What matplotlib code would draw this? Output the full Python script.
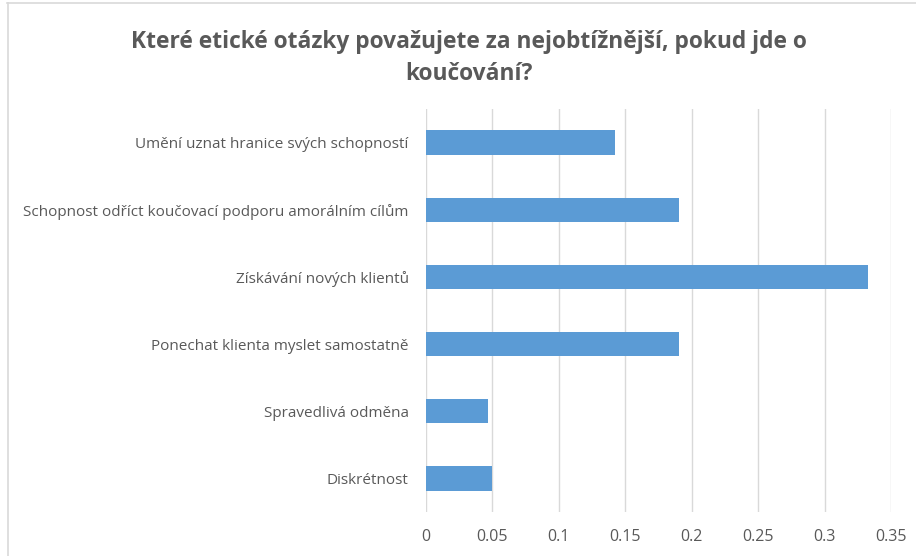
import matplotlib
matplotlib.use("Agg")
import matplotlib.pyplot as plt
from matplotlib.lines import Line2D

categories = [
    "Umění uznat hranice svých schopností",
    "Schopnost odříct koučovací podporu amorálním cílům",
    "Získávání nových klientů",
    "Ponechat klienta myslet samostatně",
    "Spravedlivá odměna",
    "Diskrétnost",
]
values = [0.142, 0.1905, 0.333, 0.1905, 0.0466, 0.0494]
xticks = [0, 0.05, 0.1, 0.15, 0.2, 0.25, 0.3, 0.35]
xticklabels = ["0", "0.05", "0.1", "0.15", "0.2", "0.25", "0.3", "0.35"]
title = "Které etické otázky považujete za nejobtížnější, pokud jde o\nkoučování?"

W, H = 916, 556
fig = plt.figure(figsize=(W / 100, H / 100), dpi=100)
fig.patch.set_facecolor("white")

ax = fig.add_axes([426 / W, 1 - 512 / H, (891 - 426) / W, (512 - 109) / H])
n = len(categories)
ypos = list(range(n))
ax.barh(ypos, values, height=0.36, color="#5B9BD5", zorder=3)
ax.set_ylim(n - 0.5, -0.5)
ax.set_xlim(0, 0.35)
ax.set_xticks(xticks)
ax.set_xticklabels(xticklabels)
ax.set_yticks(ypos)
ax.set_yticklabels(categories)
for s in ax.spines.values():
    s.set_visible(False)
ax.grid(axis="x", color="#D9D9D9", linewidth=1.0, zorder=0)
ax.tick_params(axis="both", length=0, colors="#595959")
ax.tick_params(axis="y", pad=12.5)
ax.tick_params(axis="x", pad=12)
for lab in ax.get_yticklabels():
    lab.set_fontfamily("Open Sans")
    lab.set_color("#595959")
    lab.set_fontsize(11)
for lab in ax.get_xticklabels():
    lab.set_fontfamily("Open Sans")
    lab.set_color("#595959")
    lab.set_fontsize(11.5)

fig.text(469 / W, 1 - 58 / H, title, ha="center", va="center", fontsize=16.4,
         fontweight="bold", color="#595959", family="Open Sans", linespacing=1.4)

# chart border (top and left visible)
fig.add_artist(Line2D([7 / W, 1], [1 - 2.5 / H, 1 - 2.5 / H], transform=fig.transFigure,
                      color="#D9D9D9", linewidth=1.2))
fig.add_artist(Line2D([7.5 / W, 7.5 / W], [0, 1 - 2.5 / H], transform=fig.transFigure,
                      color="#D9D9D9", linewidth=1.2))

fig.savefig("out.png", dpi=100)
